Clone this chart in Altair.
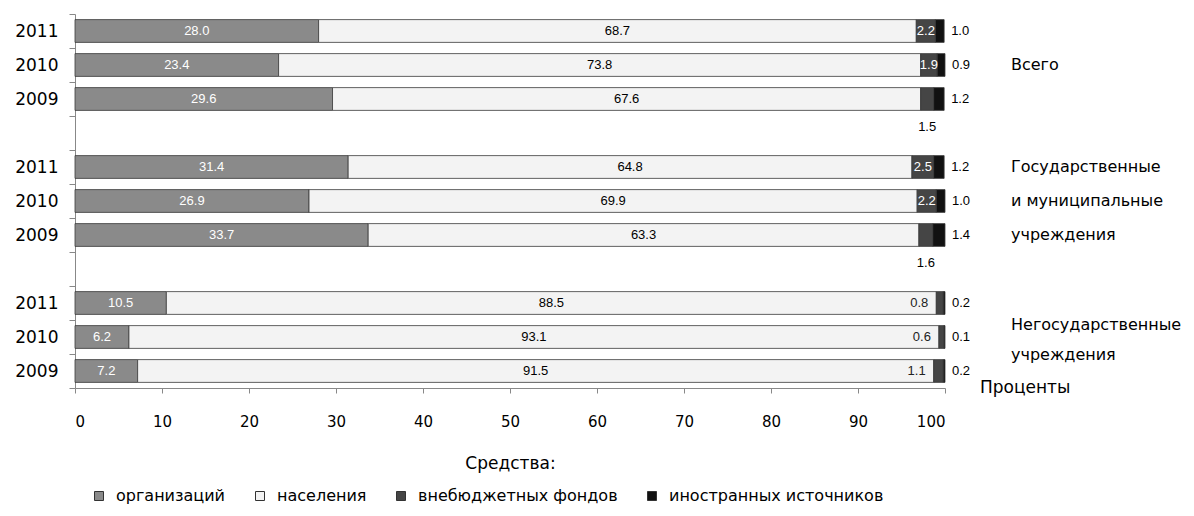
import altair as alt
import pandas as pd

groups = ["Всего", "Государственные и муниципальные учреждения", "Негосударственные учреждения"]
group_lines = [["Всего"], ["Государственные", "и муниципальные", "учреждения"], ["Негосударственные", "учреждения"]]
group_label_rows = ["0|2010", "1|2011", "2|2011"]
years = ["2011", "2010", "2009"]
series = ["организаций", "населения", "внебюджетных фондов", "иностранных источников"]
org = [28.0, 23.4, 29.6, 31.4, 26.9, 33.7, 10.5, 6.2, 7.2]
pop = [68.7, 73.8, 67.6, 64.8, 69.9, 63.3, 88.5, 93.1, 91.5]
funds = [2.2, 1.9, 1.5, 2.5, 2.2, 1.6, 0.8, 0.6, 1.1]
foreign = [1.0, 0.9, 1.2, 1.2, 1.0, 1.4, 0.2, 0.1, 0.2]
x_ticks = [0, 10, 20, 30, 40, 50, 60, 70, 80, 90, 100]
colors = ["#8a8a8a", "#f3f3f3", "#454545", "#111111"]

F = "DejaVu Sans"
NF = "Liberation Sans Narrow, Liberation Sans, Arial Narrow, sans-serif"

rows = []
domain = []
for gi, g in enumerate(groups):
    if gi > 0:
        domain.append(f"gap{gi}")
    for yi, yr in enumerate(years):
        key = f"{gi}|{yr}"
        domain.append(key)
        idx = gi * 3 + yi
        for si, (s, vals) in enumerate(zip(series, [org, pop, funds, foreign])):
            rows.append({"row": key, "group": gi, "year": yr, "series": s,
                         "order": si, "value": vals[idx]})
df = pd.DataFrame(rows)

y_enc = alt.Y(
    "row:N",
    scale=alt.Scale(domain=domain, paddingInner=0, paddingOuter=0),
    axis=alt.Axis(
        title=None,
        labelExpr="indexof(datum.label, '|') >= 0 ? split(datum.label, '|')[1] : ''",
        tickBand="extent", tickSize=6, labelPadding=11,
        labelFont=F, labelFontSize=17, labelColor="#000",
        domainColor="#888", tickColor="#888", grid=False,
    ),
)

x_axis = alt.Axis(
    values=x_ticks, tickSize=5, labelPadding=21, labelFont=F, labelFontSize=15,
    labelColor="#000", domainColor="#888", tickColor="#888", grid=False,
    titleFont=F, titleFontSize=17, titleFontWeight="normal", titlePadding=26,
    titleColor="#000",
)
x_scale = alt.Scale(domain=[0, 100], nice=False)


def xq(field):
    return alt.X(field, type="quantitative", scale=x_scale, axis=x_axis, title="Средства:")


base = alt.Chart(df).transform_stack(
    stack="value", groupby=["row"], as_=["x0", "x1"],
    sort=[alt.SortField("order", "ascending")],
).transform_calculate(mid="(datum.x0 + datum.x1) / 2")

bars = base.mark_bar(height={"band": 0.67}, stroke="#3a3a3a", strokeWidth=0.8).encode(
    x=xq("x0"),
    x2="x1:Q",
    y=y_enc,
    color=alt.Color(
        "series:N",
        scale=alt.Scale(domain=series, range=colors),
        legend=alt.Legend(
            title=None, orient="none", legendX=16, legendY=474, direction="horizontal",
            symbolType="square", symbolSize=81, symbolStrokeColor="#333",
            symbolStrokeWidth=1, labelFont=F, labelFontSize=16, labelColor="#000",
            labelLimit=0, columnPadding=26, labelOffset=9,
        ),
    ),
    order=alt.Order("order:Q"),
)

txt = alt.Text("value:Q", format=".1f")
FS = 13

org_text = base.transform_filter("datum.order == 0").mark_text(
    color="white", font=NF, fontSize=FS).encode(x=xq("mid"), y=y_enc, text=txt)

pop_text = base.transform_filter("datum.order == 1").mark_text(
    color="black", font=NF, fontSize=FS).encode(x=xq("mid"), y=y_enc, text=txt)

fund_in = base.transform_filter(
    "datum.order == 2 && datum.value >= 1.2 && !(datum.year == '2009' && datum.group < 2)"
).mark_text(color="white", font=NF, fontSize=FS).encode(x=xq("mid"), y=y_enc, text=txt)

fund_below = base.transform_filter(
    "datum.order == 2 && datum.year == '2009' && datum.group < 2"
).mark_text(color="black", font=NF, fontSize=FS, dy=28).encode(x=xq("mid"), y=y_enc, text=txt)

fund_left = base.transform_filter("datum.order == 2 && datum.value < 1.2").mark_text(
    color="#222", font=NF, fontSize=FS, align="right", dx=-8).encode(x=xq("x0"), y=y_enc, text=txt)

foreign_text = base.transform_filter("datum.order == 3").mark_text(
    color="black", font=NF, fontSize=FS, align="left", dx=7).encode(x=xq("x1"), y=y_enc, text=txt)

GFS = 16
gdf1 = pd.DataFrame({"row": group_label_rows[:2], "text": group_lines[:2]})
group_text1 = alt.Chart(gdf1).mark_text(
    align="left", baseline="middle", font=F, fontSize=GFS, lineHeight=34, dx=66, color="#000"
).encode(x=alt.datum(100), y=y_enc, text="text:N")

gdf2 = pd.DataFrame({"row": group_label_rows[2:], "text": group_lines[2:]})
group_text2 = alt.Chart(gdf2).mark_text(
    align="left", baseline="middle", font=F, fontSize=GFS, lineHeight=30, dx=66, dy=22,
    color="#000"
).encode(x=alt.datum(100), y=y_enc, text="text:N")

pdf = pd.DataFrame({"row": ["2|2009"], "text": ["Проценты"]})
pct_text = alt.Chart(pdf).mark_text(
    align="left", baseline="middle", font=F, fontSize=17, dx=35, dy=17, color="#000"
).encode(x=alt.datum(100), y=y_enc, text="text:N")

chart = alt.layer(
    bars, org_text, pop_text, fund_in, fund_below, fund_left, foreign_text,
    group_text1, group_text2, pct_text
).properties(
    width=870, height=374, background="white",
    autosize=alt.AutoSizeParams(type="none"),
    padding={"left": 67, "top": 6, "right": 241, "bottom": 118},
).configure_view(stroke=None)

chart.save("out.html", embed_options={"renderer": "svg", "actions": False})
